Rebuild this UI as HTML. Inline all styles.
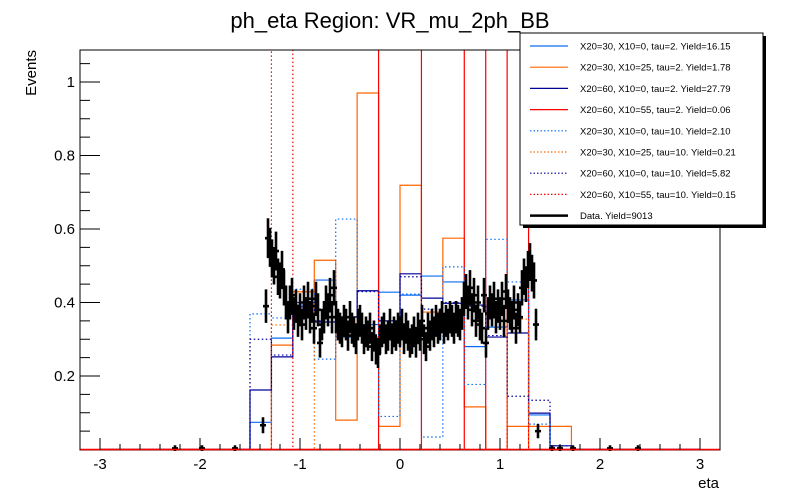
<!DOCTYPE html>
<html><head><meta charset="utf-8"><style>
html,body{margin:0;padding:0;background:#fff;}
svg{display:block;font-family:"Liberation Sans",sans-serif;}
</style></head><body>
<svg id="chart" width="800" height="500" viewBox="0 0 800 500" xmlns="http://www.w3.org/2000/svg">
<defs><clipPath id="fr"><rect x="80" y="50" width="641" height="401"/></clipPath></defs>
<rect width="800" height="500" fill="#fff"/>
<text x="390" y="28" font-size="22" text-anchor="middle">ph_eta Region: VR_mu_2ph_BB</text>
<text x="0" y="0" font-size="15" text-anchor="end" transform="translate(36,50) rotate(-90)">Events</text>
<text x="719" y="488" font-size="15" text-anchor="end">eta</text>
<g id="hists" clip-path="url(#fr)"></g>
<g id="datag" clip-path="url(#fr)"></g>
<g id="axes"></g>
<g id="legend"></g>
</svg>
<script>
const binEdgesMin = -3, binEdgesMax = 3, nBins = 28;
const blueSolid   = [0,0,0,0,0,0,0,0.074,0.303,0.393,0.461,0.306,0.34,0.428,0.42,0.472,0.456,0.28,0.333,0.407,0.094,0,0,0,0,0,0,0];
const orangeSolid = [0,0,0,0,0,0,0,0,0.284,0.429,0.515,0.08,0.97,0.063,0.719,0.374,0.575,0.116,0,0.063,0.063,0.063,0,0,0,0,0,0];
const navySolid   = [0,0,0,0,0,0,0,0.162,0.252,0.388,0.347,0.361,0.432,0.35,0.478,0.412,0.398,0.393,0.306,0.317,0.099,0.01,0,0,0,0,0,0];
const redSolid    = [0,0,0,0,0,0,0,0,0,0,0,0,0,5,5,0,0,5,0,5,0,0,0,0,0,0,0,0];
const blueDotted  = [0,0,0,0,0,0,0,0.369,0.358,0.436,0.246,0.627,0.43,0.09,0.423,0.034,0.497,0.177,0.572,0.456,0.069,0,0,0,0,0,0,0];
const orangeDotted= [0,0,0,0,0,0,0,0,0.339,0.43,0,0,0,0,0,0,0,0,0,0.355,0,0,0,0,0,0,0,0];
const navyDotted  = [0,0,0,0,0,0,0,0.30,0.257,0.40,0.35,0.36,0.43,0.35,0.47,0.382,0.40,0.39,0.31,0.145,0.134,0.01,0,0,0,0,0,0];
const redDotted   = [0,0,0,0,0,0,0,0,5,0,0,0,0,0,0,0,0,0,0,0,0,0,0,0,0,0,0,0];
const dataEta = [-2.25,-1.98,-1.65,-1.37,-1.34,-1.32,-1.30,-1.28,-1.26,-1.24,-1.22,-1.20,-1.18,-1.16,-1.14,-1.12,-1.10,-1.08,-1.06,-1.04,-1.02,-1.00,-0.98,-0.96,-0.94,-0.92,-0.90,-0.88,-0.86,-0.84,-0.82,-0.80,-0.78,-0.76,-0.74,-0.72,-0.70,-0.68,-0.66,-0.64,-0.62,-0.60,-0.58,-0.56,-0.54,-0.52,-0.50,-0.48,-0.46,-0.44,-0.42,-0.40,-0.38,-0.36,-0.34,-0.32,-0.30,-0.28,-0.26,-0.24,-0.22,-0.20,-0.18,-0.16,-0.14,-0.12,-0.10,-0.08,-0.06,-0.04,-0.02,0,0.02,0.04,0.06,0.08,0.10,0.12,0.14,0.16,0.18,0.20,0.22,0.24,0.26,0.28,0.30,0.32,0.34,0.36,0.38,0.40,0.42,0.44,0.46,0.48,0.50,0.52,0.54,0.56,0.58,0.60,0.62,0.64,0.66,0.68,0.70,0.72,0.74,0.76,0.78,0.80,0.82,0.84,0.86,0.88,0.90,0.92,0.94,0.96,0.98,1.00,1.02,1.04,1.06,1.08,1.10,1.12,1.14,1.16,1.18,1.20,1.22,1.24,1.26,1.28,1.30,1.32,1.34,1.36,1.38,1.52,1.60,1.73,2.10,2.38];
const dataVal = [0.003,0.003,0.003,0.066,0.39,0.575,0.55,0.52,0.50,0.54,0.47,0.46,0.49,0.44,0.40,0.36,0.40,0.42,0.37,0.39,0.35,0.38,0.34,0.40,0.37,0.41,0.36,0.39,0.33,0.41,0.38,0.29,0.34,0.36,0.40,0.38,0.42,0.36,0.44,0.36,0.34,0.33,0.32,0.35,0.34,0.31,0.36,0.33,0.32,0.30,0.34,0.35,0.33,0.30,0.32,0.31,0.33,0.28,0.31,0.27,0.26,0.30,0.32,0.33,0.30,0.31,0.34,0.30,0.32,0.31,0.33,0.32,0.34,0.30,0.33,0.31,0.29,0.30,0.32,0.29,0.33,0.31,0.35,0.30,0.28,0.33,0.31,0.34,0.32,0.35,0.33,0.34,0.36,0.33,0.35,0.34,0.36,0.35,0.33,0.36,0.35,0.34,0.37,0.41,0.43,0.40,0.44,0.38,0.42,0.35,0.40,0.34,0.33,0.42,0.29,0.37,0.40,0.38,0.41,0.36,0.39,0.37,0.41,0.35,0.43,0.39,0.37,0.36,0.40,0.33,0.38,0.36,0.44,0.47,0.45,0.49,0.51,0.48,0.46,0.34,0.05,0.003,0.003,0.003,0.003,0.003];
const xTicks = [-3,-2,-1,0,1,2,3];
const yTicks = [0.2,0.4,0.6,0.8,1];
const legendLabels = ["X20=30, X10=0, tau=2. Yield=16.15","X20=30, X10=25, tau=2. Yield=1.78","X20=60, X10=0, tau=2. Yield=27.79","X20=60, X10=55, tau=2. Yield=0.06","X20=30, X10=0, tau=10. Yield=2.10","X20=30, X10=25, tau=10. Yield=0.21","X20=60, X10=0, tau=10. Yield=5.82","X20=60, X10=55, tau=10. Yield=0.15","Data. Yield=9013"];

const NS="http://www.w3.org/2000/svg";
function X(v){return 400+100*v;}
function Y(v){return 449.5-367.5*v;}
function mk(tag,attrs,parent){const e=document.createElementNS(NS,tag);for(const k in attrs)e.setAttribute(k,attrs[k]);parent.appendChild(e);return e;}
const series=[
 {d:blueSolid,c:"#0a6cf5",dash:null,n:"hist-x30-x0-tau2"},
 {d:orangeSolid,c:"#ff6600",dash:null,n:"hist-x30-x25-tau2"},
 {d:navySolid,c:"#000099",dash:null,n:"hist-x60-x0-tau2"},
 {d:redSolid,c:"#ff0000",dash:null,n:"hist-x60-x55-tau2"},
 {d:blueDotted,c:"#0a6cf5",dash:"1.5,2.5",n:"hist-x30-x0-tau10"},
 {d:orangeDotted,c:"#ff6600",dash:"1.5,2.5",n:"hist-x30-x25-tau10"},
 {d:navyDotted,c:"#000099",dash:"1.5,2.5",n:"hist-x60-x0-tau10"},
 {d:redDotted,c:"#ff0000",dash:"1.5,2.5",n:"hist-x60-x55-tau10"}];
const hg=document.getElementById('hists');
const bw=(binEdgesMax-binEdgesMin)/nBins;
series.forEach(s=>{
  let p="M"+X(binEdgesMin)+","+Y(0);
  for(let i=0;i<nBins;i++){const x0=X(binEdgesMin+i*bw),x1=X(binEdgesMin+(i+1)*bw),y=Math.max(Y(s.d[i]),40);p+=" L"+x0+","+y+" L"+x1+","+y;}
  p+=" L"+X(binEdgesMax)+","+Y(0);
  const a={d:p,fill:"none",stroke:s.c,"stroke-width":1.2};
  if(s.dash)a["stroke-dasharray"]=s.dash;
  const e=mk('path',a,hg);
  
  
});
const dg=document.getElementById('datag');
dataEta.forEach((v,i)=>{
  const x=X(v),y=Y(dataVal[i]),err=Math.sqrt(Math.max(dataVal[i],0.002))*0.065+0.005;
  const g=mk('path',{d:"M"+(x-3)+","+y+" L"+(x+3)+","+y+" M"+x+","+Y(dataVal[i]+err)+" L"+x+","+Y(dataVal[i]-err),stroke:"#000","stroke-width":2.6,fill:"none"},dg);
  
  
});
const ax=document.getElementById('axes');
mk('rect',{x:80,y:50,width:640,height:400,fill:"none",stroke:"#000","stroke-width":1},ax);
mk('line',{x1:80,y1:449.5,x2:720,y2:449.5,stroke:"#ff0000","stroke-width":1.5},ax);
for(let k=-16;k<=16;k++){const v=k*0.2;if(v<-3.2||v>3.2)continue;const x=X(v);const major=k%5===0;
  mk('line',{x1:x,y1:450,x2:x,y2:major?438:444,stroke:"#000","stroke-width":1},ax);}
xTicks.forEach(v=>{const t=mk('text',{x:X(v),y:469,"font-size":15,"text-anchor":"middle"},ax);t.textContent=String(v);
  
  });
for(let k=1;k<=21;k++){const v=k*0.05;const y=Y(v);const major=k%4===0;
  mk('line',{x1:80,y1:y,x2:major?100:90,y2:y,stroke:"#000","stroke-width":1},ax);}
yTicks.forEach(v=>{const t=mk('text',{x:75,y:Y(v)+5,"font-size":15,"text-anchor":"end"},ax);t.textContent=String(v);
  
  });
const lg=document.getElementById('legend');
mk('rect',{x:523,y:36,width:243,height:192,fill:"#000"},lg);
mk('rect',{x:520,y:33,width:243,height:192,fill:"#fff",stroke:"#000","stroke-width":1},lg);
const lc=["#0a6cf5","#ff6600","#000099","#ff0000","#0a6cf5","#ff6600","#000099","#ff0000","#000"];
legendLabels.forEach((lab,i)=>{const y=46+i*21.2;
  const a={x1:530,y1:y,x2:568,y2:y,stroke:lc[i],"stroke-width":i==8?2.5:1.2};
  if(i>=4&&i<8)a["stroke-dasharray"]="1.5,2";
  mk('line',a,lg);
  const t=mk('text',{x:580,y:y+3.5,"font-size":9.5},lg);t.textContent=lab;
  
  });
</script>
</body></html>
